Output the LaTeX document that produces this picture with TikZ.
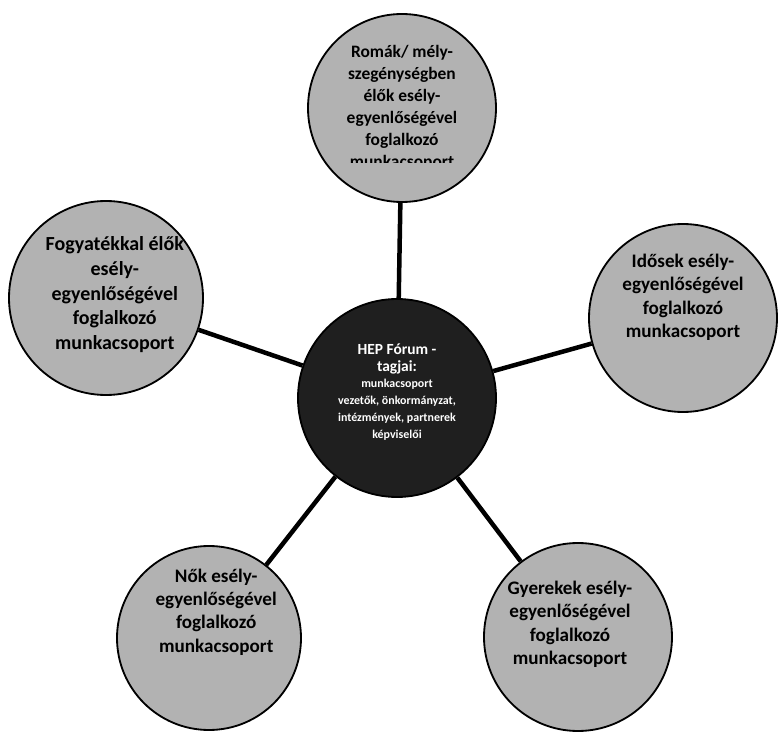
\documentclass[tikz,border=0pt]{standalone}
\usepackage{fontspec}
\setmainfont{Carlito}
\usepackage{xcolor}

\begin{document}
\begin{tikzpicture}[thick, link/.style={line width=3.2pt}, hub node/.style={circle,draw,line width=1.3pt,fill=black!88,minimum size=4.95cm,inner sep=0pt}, group node/.style={circle,draw,line width=1.3pt,fill=black!30,minimum size=4.7cm,inner sep=0pt}, group text/.style={align=center,font=\bfseries\fontsize{13.6}{16.6}\selectfont}, hub text/.style={align=center,text=white!78,font=\bfseries\fontsize{8.5}{12}\selectfont}]

            \useasboundingbox (0,0) rectangle (19.475,18.375);

            \node[hub node] (hep) at (9.925,8.425) {};
            \node[group node] (romak) at (10.05,15.675) {};
            \node[group node, minimum size=4.85cm] (fogy) at (2.65,10.925) {};
            \node[group node] (idosek) at (17.075,10.425) {};
            \node[group node, minimum size=4.6cm] (nok) at (5.225,2.425) {};
            \node[group node] (gyerekek) at (14.45,2.45) {};

            \node[hub text] (hep text) at ([yshift=0.15cm]hep) {\fontsize{11}{15}\selectfont HEP Fórum -\\ \fontsize{11}{15}\selectfont tagjai:\\ munkacsoport\\ vezetők, önkormányzat,\\ intézmények, partnerek\\ képviselői};
            \begin{scope}
                \clip (7,14.3) rectangle (13,18.3);
                \node[group text, font=\bfseries\fontsize{12.4}{15.7}\selectfont] (romak text) at (romak) {Romák/ mély-\\ szegénységben\\ élők esély-\\ egyenlőségével\\ foglalkozó\\ munkacsoport};
            \end{scope}
            \node[group text, font=\bfseries\fontsize{14.2}{17.6}\selectfont] (fogy text) at ([xshift=0.22cm,yshift=0.08cm]fogy) {Fogyatékkal élők\\ esély-\\ egyenlőségével\\ foglalkozó\\ munkacsoport};
            \node[group text] (idosek text) at ([yshift=0.52cm]idosek) {Idősek esély-\\ egyenlőségével\\ foglalkozó\\ munkacsoport};
            \node[group text] (nok text) at ([xshift=0.18cm,yshift=0.65cm]nok) {Nők esély-\\ egyenlőségével\\ foglalkozó\\ munkacsoport};
            \node[group text] (gyerekek text) at ([xshift=-0.2cm,yshift=0.32cm]gyerekek) {Gyerekek esély-\\ egyenlőségével\\ foglalkozó\\ munkacsoport};

            \path[link]
                (hep) edge (romak)
                (hep) edge (fogy)
                (hep) edge (idosek)
                (hep) edge (nok)
                (hep) edge (gyerekek)
            ;
        \end{tikzpicture}
\end{document}
